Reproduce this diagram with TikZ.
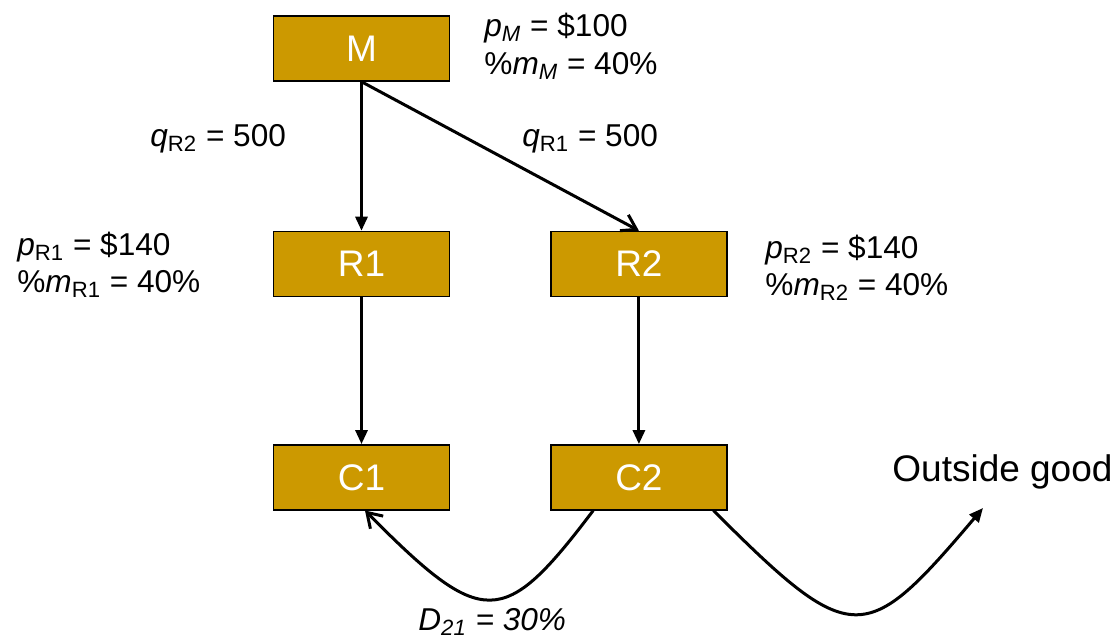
\documentclass[tikz,border=0pt]{standalone}
\usepackage{fontspec}
\setmainfont{Liberation Sans}
\usepackage{xcolor}
\usetikzlibrary{arrows.meta, positioning}
\definecolor{boxgold}{HTML}{CC9900}

\begin{document}
\begin{tikzpicture}[
    x=0.5pt, y=-0.5pt,
    firm/.style={rectangle, draw=black, line width=0.7pt, fill=boxgold,
                 minimum width=88pt, minimum height=32.5pt, inner sep=0pt,
                 text=white, font=\fontsize{18.5}{22}\selectfont},
    lbl/.style={anchor=base west, inner sep=0pt,
                font=\fontsize{15.8}{19}\selectfont},
    flow/.style={-{Triangle[length=7pt, width=6pt]}, line width=1.5pt},
    barb/.style={-{Straight Barb[length=7pt, width=9pt]}, line width=1.5pt}
  ]
  \useasboundingbox (0,0) rectangle (1113,639);

  \node[firm] (M) at (361.5,48.5) {M};
  \node[firm, below=74.5pt of M]  (R1) {R1};
  \node[firm, right=50pt of R1]   (R2) {R2};
  \node[firm, below=73.5pt of R1] (C1) {C1};
  \node[firm, right=50pt of C1]   (C2) {C2};

  % prices and margins
  \node[lbl] (pM)  at (484,36)  {\textit{p}\textsubscript{\textit{M}} = \$100};
  \node[lbl] (mM)  at (484,74)  {\%\textit{m}\textsubscript{\textit{M}} = 40\%};
  \node[lbl] (pR1) at (17,255)  {\textit{p}\textsubscript{R1} = \$140};
  \node[lbl] (mR1) at (17,292)  {\%\textit{m}\textsubscript{R1} = 40\%};
  \node[lbl] (pR2) at (765,258) {\textit{p}\textsubscript{R2} = \$140};
  \node[lbl] (mR2) at (765,295) {\%\textit{m}\textsubscript{R2} = 40\%};
  \node[lbl] (qR2) at (150,146) {\textit{q}\textsubscript{R2} = 500};
  \node[lbl] (qR1) at (522,146) {\textit{q}\textsubscript{R1} = 500};
  \node[lbl] (D21) at (418,630) {\textit{D\textsubscript{21} = 30\%}};
  \node[lbl, font=\fontsize{18.5}{22}\selectfont] (og) at (892,481) {Outside good};
  \coordinate (ogtip) at (983,508);

  \draw[flow] (M.south) -- (R1.north);
  \draw[barb] (M.south) -- (R2.north);
  \draw[flow] (R1.south) -- (C1.north);
  \draw[flow] (R2.south) -- (C2.north);

  % diversion and outside good
  \draw[barb] (C2.216) .. controls +(-90,119) and +(118,119) .. (C1.-84);
  \draw[flow] (C2.-24) .. controls +(139,139) and +(-118,139) .. (ogtip);

\end{tikzpicture}
\end{document}
